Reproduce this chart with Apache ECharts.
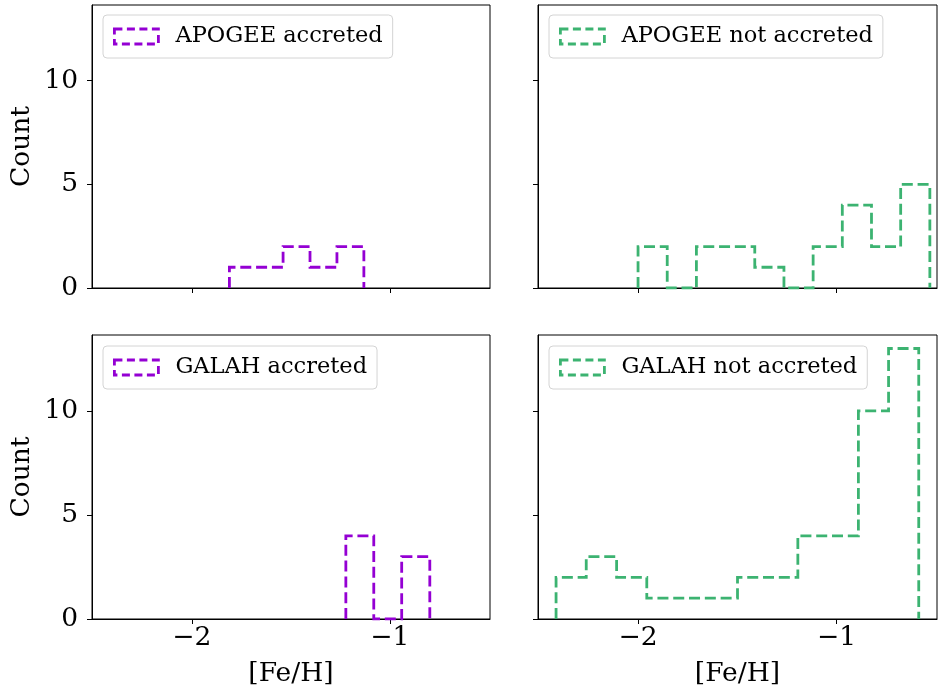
<!DOCTYPE html>
<html>
<head>
<meta charset="utf-8">
<script src="https://cdn.jsdelivr.net/npm/echarts@6/dist/echarts.min.js"></script>
<style>
html,body{margin:0;padding:0;background:#fff;}
#chart{width:940px;height:693px;}
</style>
</head>
<body>
<div id="chart"></div>
<script>
// ---- data ----
const seriesNames = ['APOGEE accreted', 'APOGEE not accreted', 'GALAH accreted', 'GALAH not accreted'];
const apogeeAccEdges = [-1.810, -1.674, -1.539, -1.403, -1.267, -1.131];
const apogeeAccCounts = [1, 1, 2, 1, 2];
const apogeeNotEdges = [-2.000, -1.853, -1.706, -1.559, -1.412, -1.265, -1.118, -0.971, -0.824, -0.677, -0.530];
const apogeeNotCounts = [2, 0, 2, 2, 1, 0, 2, 4, 2, 5];
const galahAccEdges = [-1.222, -1.081, -0.940, -0.798];
const galahAccCounts = [4, 0, 3];
const galahNotEdges = [-2.413, -2.261, -2.108, -1.956, -1.804, -1.652, -1.499, -1.347, -1.195, -1.043, -0.890, -0.738, -0.586];
const galahNotCounts = [2, 3, 2, 1, 1, 1, 2, 2, 4, 4, 10, 13];
const xTicks = [-2, -1];
const yTicks = [0, 5, 10];
const xLabel = '[Fe/H]';
const yLabel = 'Count';

const purple = '#9400D3';
const green = '#3CB371';
const FONT = 'DejaVu Serif';

// step outline built from edges & counts (matplotlib histtype='step')
function stepPoints(edges, counts) {
  const pts = [[edges[0], 0]];
  for (let i = 0; i < counts.length; i++) {
    pts.push([edges[i], counts[i]]);
    pts.push([edges[i + 1], counts[i]]);
  }
  pts.push([edges[edges.length - 1], 0]);
  return pts;
}

const xMin = -2.504, xMax = -0.494, yMax = 13.65;
const fmtNum = v => (v < 0 ? '\u2212' : '') + Math.abs(v);

const grids = [
  {left: 92, top: 5, width: 398, height: 283},
  {left: 538, top: 5, width: 399, height: 283},
  {left: 92, top: 335, width: 398, height: 284},
  {left: 538, top: 335, width: 399, height: 284}
].map(g => Object.assign(g, {show: true, borderColor: '#000', borderWidth: 1, backgroundColor: 'transparent', containLabel: false}));

const xAxes = [0, 1, 2, 3].map(i => ({
  type: 'value', gridIndex: i, min: xMin, max: xMax,
  axisLine: {show: true, onZero: false, lineStyle: {color: '#000', width: 1}},
  axisTick: {show: true, inside: false, length: 5, customValues: xTicks, lineStyle: {color: '#000', width: 1}},
  axisLabel: {show: i >= 2, customValues: xTicks, formatter: fmtNum, color: '#000', fontFamily: FONT, fontSize: 26.5, margin: 6},
  splitLine: {show: false},
  name: i >= 2 ? xLabel : '', nameLocation: 'middle', nameGap: 42,
  nameTextStyle: {color: '#000', fontFamily: FONT, fontSize: 26.5}
}));

const yAxes = [0, 1, 2, 3].map(i => ({
  type: 'value', gridIndex: i, min: 0, max: yMax,
  axisLine: {show: true, lineStyle: {color: '#000', width: 1}},
  axisTick: {show: true, inside: false, length: 5, customValues: yTicks, lineStyle: {color: '#000', width: 1}},
  axisLabel: {show: i % 2 === 0, customValues: yTicks, formatter: fmtNum, color: '#000', fontFamily: FONT, fontSize: 26.5, margin: 14},
  splitLine: {show: false},
  name: i % 2 === 0 ? yLabel : '', nameLocation: 'middle', nameGap: 56, nameRotate: 90,
  nameTextStyle: {color: '#000', fontFamily: FONT, fontSize: 26.5}
}));

const allEdges = [apogeeAccEdges, apogeeNotEdges, galahAccEdges, galahNotEdges];
const allCounts = [apogeeAccCounts, apogeeNotCounts, galahAccCounts, galahNotCounts];
const colors = [purple, green, purple, green];

const series = seriesNames.map((name, i) => ({
  name: name, type: 'line', xAxisIndex: i, yAxisIndex: i,
  data: stepPoints(allEdges[i], allCounts[i]),
  showSymbol: false, symbol: 'none', animation: false, silent: true,
  lineStyle: {color: colors[i], width: 2.8, type: [11, 4.8], cap: 'butt', join: 'miter'},
  itemStyle: {color: colors[i]}
}));

const legendPos = [
  {left: 103, top: 15}, {left: 549, top: 15},
  {left: 103, top: 346}, {left: 549, top: 346}
];
const legends = seriesNames.map((name, i) => ({
  data: [name], left: legendPos[i].left, top: legendPos[i].top,
  orient: 'horizontal', icon: 'rect', itemWidth: 44, itemHeight: 15,
  padding: [10, 10, 10, 10],
  backgroundColor: 'rgba(255,255,255,0.8)', borderColor: '#d4d4d4', borderWidth: 1, borderRadius: 4,
  itemStyle: {color: 'rgba(0,0,0,0)', borderColor: colors[i], borderWidth: 2.8, borderType: [8, 4.5]},
  lineStyle: {opacity: 0},
  textStyle: {color: '#000', fontFamily: FONT, fontSize: 22.5, lineHeight: 20, padding: [0, 0, 0, 12]},
  selectedMode: false
}));

const chart = echarts.init(document.getElementById('chart'), null, {renderer: 'canvas'});
chart.setOption({
  animation: false,
  backgroundColor: '#fff',
  grid: grids, xAxis: xAxes, yAxis: yAxes, series: series, legend: legends
});
</script>
</body>
</html>
